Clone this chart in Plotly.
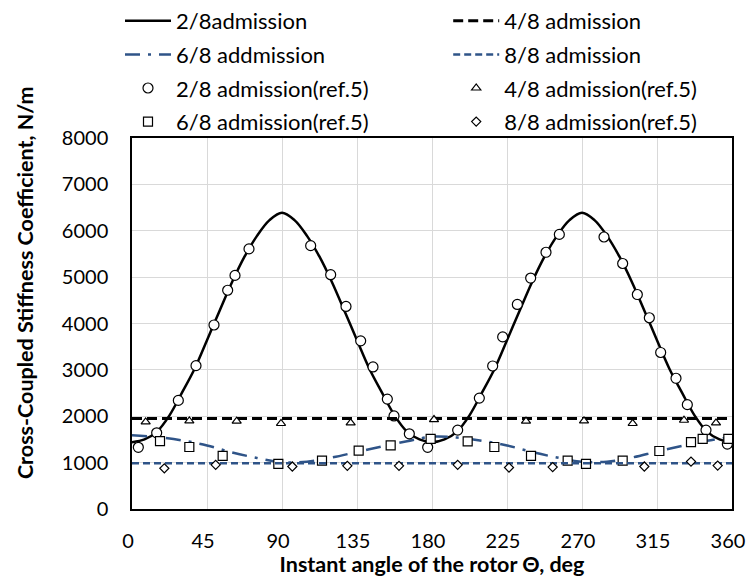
import plotly.graph_objects as go

# ---- data ----
line_angles_fine = [i * 7.5 for i in range(49)]
k_2_8_line = [1440, 1500, 1670, 2020, 2510, 3020, 3640, 4270, 4890, 5440, 5890, 6230, 6390,
              6230, 5890, 5440, 4890, 4270, 3640, 3020, 2510, 2020, 1670, 1500, 1440,
              1500, 1670, 2020, 2510, 3020, 3640, 4270, 4890, 5440, 5890, 6230, 6390,
              6230, 5890, 5440, 4890, 4270, 3640, 3020, 2510, 2020, 1670, 1500, 1440]

line_angles_15 = [i * 15 for i in range(25)]
k_6_8_line = [1590, 1550, 1480, 1370, 1220, 1100, 1010, 1020, 1110, 1230, 1350, 1460, 1560,
              1540, 1470, 1370, 1230, 1110, 1020, 1020, 1110, 1240, 1360, 1470, 1560]

flat_angles = [0, 360]
k_4_8_line = [1950, 1950]
k_8_8_line = [985, 985]

ref_2_8_angle = [3.8, 14.8, 27.8, 38.4, 49.2, 57.4, 61.8, 70.2, 107.2, 119.2, 128.4, 137.2, 144.6,
                 153.2, 157.2, 166.4, 177.4, 195.4, 208.4, 216.4, 222.4, 231.2, 239.2, 248.4,
                 256.4, 283.2, 294.4, 303.2, 310.4, 317.2, 326.4, 333.2, 344.4, 357.2]
ref_2_8_k = [1330, 1643, 2342, 3091, 3968, 4717, 5037, 5609, 5679, 5052, 4368, 3626, 3063,
             2370, 2006, 1621, 1330, 1701, 2391, 3084, 3711, 4411, 4980, 5536,
             5921, 5865, 5294, 4625, 4124, 3375, 2819, 2250, 1701, 1401]

ref_4_8_angle = [8.2, 34.4, 62.8, 89.4, 131.2, 181.2, 236.4, 271.2, 300.4, 331.2, 350.4]
ref_4_8_k = [1878, 1900, 1893, 1844, 1857, 1929, 1893, 1900, 1844, 1914, 1857]

ref_6_8_angle = [16.8, 34.4, 54.4, 87.8, 114.0, 136.0, 155.2, 179.2, 201.4, 217.4, 239.4,
                 261.4, 272.4, 294.4, 316.4, 335.4, 342.4, 357.8]
ref_6_8_k = [1465, 1337, 1144, 973, 1044, 1258, 1373, 1514, 1459, 1337, 1144,
             1044, 973, 1044, 1251, 1444, 1514, 1514]

ref_8_8_angle = [19.4, 50.2, 96.2, 129.2, 160.2, 195.4, 226.2, 252.4, 307.4, 335.4, 351.4]
ref_8_8_k = [878, 952, 916, 930, 930, 952, 894, 903, 916, 1022, 937]

x_ticks = [0, 45, 90, 135, 180, 225, 270, 315, 360]
y_ticks = [0, 1000, 2000, 3000, 4000, 5000, 6000, 7000, 8000]

BLUE = "#2F5488"
FONT = "Lato"
FS_LEG = 22
FS_TICK = 20
FS_TITLE = 21.5

fig = go.Figure()

fig.add_trace(go.Scatter(x=line_angles_fine, y=k_2_8_line, mode="lines", name="2/8admission",
                         line=dict(color="black", width=2.5, shape="spline"),
                         legend="legend", legendgroup="a"))
fig.add_trace(go.Scatter(x=line_angles_15, y=k_6_8_line, mode="lines", name="6/8 addmission",
                         line=dict(color=BLUE, width=2.5, shape="spline", dash="15px,8px,3px,8px"),
                         legend="legend", legendgroup="b"))
fig.add_trace(go.Scatter(x=ref_2_8_angle, y=ref_2_8_k, mode="markers", name="2/8 admission(ref.5)",
                         marker=dict(symbol="circle", size=10, color="white",
                                     line=dict(color="black", width=1.2)),
                         legend="legend", legendgroup="c"))
fig.add_trace(go.Scatter(x=ref_6_8_angle, y=ref_6_8_k, mode="markers", name="6/8 admission(ref.5)",
                         marker=dict(symbol="square", size=9, color="white",
                                     line=dict(color="black", width=1.2)),
                         legend="legend", legendgroup="d"))

fig.add_trace(go.Scatter(x=flat_angles, y=k_4_8_line, mode="lines", name="4/8 admission",
                         line=dict(color="black", width=3, dash="10px,5px"),
                         legend="legend2", legendgroup="e"))
fig.add_trace(go.Scatter(x=flat_angles, y=k_8_8_line, mode="lines", name="8/8 admission",
                         line=dict(color=BLUE, width=2.5, dash="7px,4px"),
                         legend="legend2", legendgroup="f"))
fig.add_trace(go.Scatter(x=ref_4_8_angle, y=ref_4_8_k, mode="markers", name="4/8 admission(ref.5)",
                         marker=dict(symbol="triangle-up", size=8, color="white",
                                     line=dict(color="black", width=1.2)),
                         legend="legend2", legendgroup="g"))
fig.add_trace(go.Scatter(x=ref_8_8_angle, y=ref_8_8_k, mode="markers", name="8/8 admission(ref.5)",
                         marker=dict(symbol="diamond", size=7, color="white",
                                     line=dict(color="black", width=1.2)),
                         legend="legend2", legendgroup="h"))

legend_common = dict(font=dict(family=FONT, size=FS_LEG, color="black"), bgcolor="rgba(0,0,0,0)",
                     yanchor="top", xanchor="left", tracegroupgap=2, itemwidth=46,
                     orientation="v")

# the page body adds an 8px offset; the figure is sized to stay inside the visible window
fig.update_layout(
    width=738, height=569,
    margin=dict(l=124, r=14, t=129.5, b=67.5, autoexpand=False),
    paper_bgcolor="white", plot_bgcolor="white",
    font=dict(family=FONT, size=FS_TICK, color="black"),
    showlegend=True,
    legend=dict(x=-0.02, y=1.372, **legend_common),
    legend2=dict(x=0.527, y=1.372, **legend_common),
    xaxis=dict(range=[0, 360], tickvals=x_ticks, ticktext=[str(v) for v in x_ticks],
               showgrid=True, gridcolor="#D9D9D9", gridwidth=1,
               showline=True, linecolor="black", linewidth=1.5, mirror=True,
               ticks="", ticklabelstandoff=13, ticklabelshift=-4, zeroline=False, automargin=False,
               tickfont=dict(family=FONT, size=FS_TICK, color="black"),
               title=dict(text="<b>Instant angle of the rotor Θ, deg</b>",
                          font=dict(family=FONT, size=FS_TITLE, color="black"), standoff=4)),
    yaxis=dict(range=[0, 8000], tickvals=y_ticks, ticktext=[str(v) for v in y_ticks],
               showgrid=True, gridcolor="#D9D9D9", gridwidth=1,
               showline=True, linecolor="black", linewidth=1.5, mirror=True,
               ticks="", ticklabelstandoff=18, zeroline=False, automargin=False,
               tickfont=dict(family=FONT, size=FS_TICK, color="black")),
    annotations=[dict(text="<b>Cross-Coupled Stiffness Coefficient, N/m</b>",
                      xref="paper", yref="paper", x=-0.1783, y=0.609,
                      xanchor="center", yanchor="middle", textangle=-90, showarrow=False,
                      font=dict(family=FONT, size=FS_TITLE, color="black"))],
)

fig.write_html("out.html")
